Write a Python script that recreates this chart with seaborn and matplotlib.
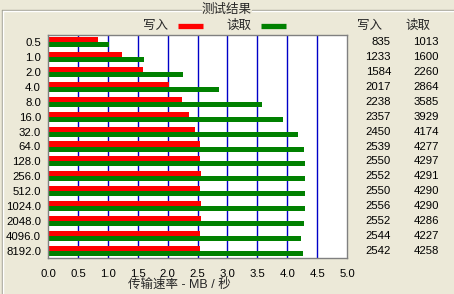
import matplotlib
matplotlib.use("Agg")
import matplotlib.pyplot as plt
import seaborn as sns
import pandas as pd
from matplotlib.lines import Line2D
import matplotlib.transforms as mtransforms

block_sizes = ["0.5", "1.0", "2.0", "4.0", "8.0", "16.0", "32.0", "64.0", "128.0",
               "256.0", "512.0", "1024.0", "2048.0", "4096.0", "8192.0"]
write_kb = [835, 1233, 1584, 2017, 2238, 2357, 2450, 2539, 2550, 2552, 2550, 2556, 2552, 2544, 2542]
read_kb = [1013, 1600, 2260, 2864, 3585, 3929, 4174, 4277, 4297, 4291, 4290, 4290, 4286, 4227, 4258]
series_names = ["写入", "读取"]
x_ticks = [0.0, 0.5, 1.0, 1.5, 2.0, 2.5, 3.0, 3.5, 4.0, 4.5, 5.0]

bg = "#ECE9D8"
red = "#FF0000"
green = "#008000"
grid_blue = "#0000C8"

df = pd.DataFrame({
    "size": block_sizes * 2,
    "series": [series_names[0]] * len(block_sizes) + [series_names[1]] * len(block_sizes),
    "mbps": [v / 1000 for v in write_kb] + [v / 1000 for v in read_kb],
})

sns.set_theme(style="white")
plt.rcParams["font.family"] = ["Liberation Sans", "Noto Sans CJK SC", "DejaVu Sans"]

W, H = 454, 294
fig = plt.figure(figsize=(W / 100, H / 100), dpi=100, facecolor=bg)
ax = fig.add_axes([48 / W, 1 - 258 / H, (347 - 48) / W, (258 - 35) / H])
ax.set_facecolor("white")

sns.barplot(data=df, y="size", x="mbps", hue="series", hue_order=series_names,
            order=block_sizes, palette=[red, green], orient="h", width=0.68,
            saturation=1, ax=ax, legend=False, edgecolor="none", linewidth=0)

ax.set_xlim(0, 5.0)
ax.set_ylim(len(block_sizes) - 0.5, -0.5)
ax.set_xticks(x_ticks)
ax.set_xticklabels([f"{t:.1f}" for t in x_ticks], fontsize=8.2, color="black")
ax.set_yticklabels(block_sizes, fontsize=8.2, color="black")
ax.tick_params(axis="x", length=0, pad=8)
ax.tick_params(axis="y", length=0, pad=5)
ax.set_ylabel("")
ax.set_xlabel("")
for xv in x_ticks[1:-1]:
    ax.axvline(xv, color=grid_blue, lw=1, zorder=0)
for s in ax.spines.values():
    s.set_visible(True)
    s.set_color("#808080")
    s.set_linewidth(1)

fig.text(179 / W, 1 - 285 / H, "传输速率 - MB / 秒", ha="center", va="center", fontsize=9)

# Right-hand table
trans = mtransforms.blended_transform_factory(fig.transFigure, ax.transData)
for i, (w, r) in enumerate(zip(write_kb, read_kb)):
    ax.text(391 / W, i, str(w), transform=trans, ha="right", va="center", fontsize=8.2, color="black")
    ax.text(439 / W, i, str(r), transform=trans, ha="right", va="center", fontsize=8.2, color="black")
fig.text(369.5 / W, 1 - 26 / H, series_names[0], ha="center", va="center", fontsize=9)
fig.text(418 / W, 1 - 26 / H, series_names[1], ha="center", va="center", fontsize=9)

# Legend row
fig.text(156 / W, 1 - 26 / H, series_names[0], ha="center", va="center", fontsize=9)
fig.text(239 / W, 1 - 26 / H, series_names[1], ha="center", va="center", fontsize=9)
fig.add_artist(Line2D([178 / W, 203 / W], [1 - 25.5 / H] * 2, color=red, lw=3.8,
                      solid_capstyle="butt", transform=fig.transFigure))
fig.add_artist(Line2D([261 / W, 286 / W], [1 - 25.5 / H] * 2, color=green, lw=3.8,
                      solid_capstyle="butt", transform=fig.transFigure))

# Group box frame and title
fc = "#A5A497"
fig.add_artist(Line2D([2 / W, 201 / W], [1 - 10 / H] * 2, color=fc, lw=1, transform=fig.transFigure))
fig.add_artist(Line2D([252 / W, 1.0], [1 - 10 / H] * 2, color=fc, lw=1, transform=fig.transFigure))
fig.add_artist(Line2D([2 / W, 2 / W], [0, 1 - 10 / H], color=fc, lw=1, transform=fig.transFigure))
fig.add_artist(Line2D([3 / W, 3 / W], [0, 1 - 11 / H], color="white", lw=1, transform=fig.transFigure))
fig.add_artist(Line2D([3 / W, 201 / W], [1 - 11 / H] * 2, color="white", lw=1, transform=fig.transFigure))
fig.add_artist(Line2D([252 / W, 1.0], [1 - 11 / H] * 2, color="white", lw=1, transform=fig.transFigure))
fig.text(226.5 / W, 1 - 10 / H, "测试结果", ha="center", va="center", fontsize=9)

fig.savefig("out.png", dpi=100, facecolor=bg)
